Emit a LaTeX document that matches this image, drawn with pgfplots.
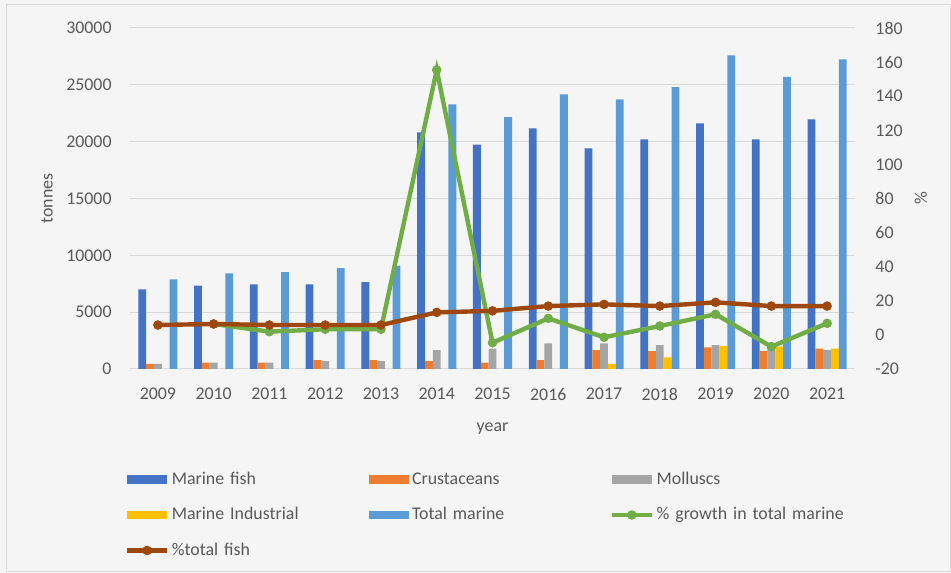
\documentclass[border=0pt]{standalone}
\usepackage{pgfplots}
\pgfplotsset{compat=1.18}
\usepackage{fontspec}
\setmainfont{Carlito}
\definecolor{bgc}{HTML}{F5F5F5}
\definecolor{borderc}{HTML}{D9D9D9}
\definecolor{gridc}{HTML}{D9D9D9}
\definecolor{textc}{HTML}{595959}
\definecolor{mf}{HTML}{4472C4}
\definecolor{cr}{HTML}{ED7D31}
\definecolor{mo}{HTML}{A5A5A5}
\definecolor{mi}{HTML}{FFC000}
\definecolor{tm}{HTML}{5B9BD5}
\definecolor{gr}{HTML}{70AD47}
\definecolor{br}{HTML}{9E480E}
\newcommand{\chartfont}{\fontsize{13.4}{15}\selectfont}
\pgfplotsset{
  barleg/.style={legend image code/.code={\fill[##1] (0pt,-3.2pt) rectangle (30pt,3.2pt);}},
  lineleg/.style={legend image code/.code={\draw[##1,mark repeat=2,mark phase=2] plot coordinates {(0pt,0pt) (15pt,0pt) (30pt,0pt)};}},
}
\begin{document}
\begin{tikzpicture}
\fill[bgc] (0pt,0pt) rectangle (713.25pt,429.75pt);
\draw[borderc, line width=0.75pt] (4.5pt,0.75pt) rectangle (712.5pt,426pt);
\begin{axis}[
  at={(97.5pt,153pt)}, anchor=south west, scale only axis,
  width=543.75pt, height=255.75pt,
  xmin=-0.5, xmax=12.5, ymin=0, ymax=30000,
  xtick={0,1,2,3,4,5,6,7,8,9,10,11,12},
  xticklabels={2009,2010,2011,2012,2013,2014,2015,2016,2017,2018,2019,2020,2021},
  ytick={0,5000,10000,15000,20000,25000,30000},
  axis line style={draw=none}, tick style={draw=none},
  ymajorgrids, grid style={gridc, line width=0.75pt},
  /pgf/number format/assume math mode=true,
  /pgf/number format/1000 sep={},
  scaled y ticks=false,
  ticklabel style={font=\chartfont, text=textc},
  xticklabel style={yshift=-11pt},
  yticklabel style={xshift=-10.3pt},
  xlabel={year}, ylabel={tonnes},
  label style={font=\chartfont, text=textc},
  xlabel style={at={(axis description cs:0.5,-0.1743)}, anchor=center},
  ylabel style={at={(axis description cs:-0.1145,0.5)}, anchor=center},
]
\addplot[ybar, bar width=0.14, bar shift=-0.28, fill=mf, draw=none] coordinates {
(0,7010) (1,7330) (2,7450) (3,7450) (4,7650) (5,20820) (6,19730) (7,21170) (8,19410) (9,20200) (10,21610) (11,20200) (12,21960)};
\addplot[ybar, bar width=0.14, bar shift=-0.14, fill=cr, draw=none] coordinates {
(0,440) (1,550) (2,550) (3,790) (4,790) (5,700) (6,550) (7,790) (8,1670) (9,1580) (10,1910) (11,1580) (12,1790)};
\addplot[ybar, bar width=0.14, bar shift=0, fill=mo, draw=none] coordinates {
(0,440) (1,550) (2,550) (3,700) (4,700) (5,1670) (6,1790) (7,2260) (8,2260) (9,2110) (10,2110) (11,2000) (12,1670)};
\addplot[ybar, bar width=0.14, bar shift=0.14, fill=mi, draw=none] coordinates {
(8,440) (9,1030) (10,2020) (11,1960) (12,1790)};
\addplot[ybar, bar width=0.14, bar shift=0.28, fill=tm, draw=none] coordinates {
(0,7890) (1,8420) (2,8530) (3,8880) (4,9090) (5,23280) (6,22160) (7,24160) (8,23720) (9,24800) (10,27590) (11,25710) (12,27240)};
\end{axis}
\begin{axis}[
  at={(97.5pt,153pt)}, anchor=south west, scale only axis,
  width=543.75pt, height=255.75pt,
  xmin=-0.5, xmax=12.5, ymin=-20, ymax=180,
  axis y line*=right, axis x line=none,
  ytick={-20,0,20,40,60,80,100,120,140,160,180},
  axis line style={draw=none}, tick style={draw=none},
  /pgf/number format/assume math mode=true,
  ticklabel style={font=\chartfont, text=textc},
  yticklabel style={xshift=11.8pt},
  ylabel={\%},
  label style={font=\chartfont, text=textc},
  ylabel style={at={(axis description cs:1.091,0.5)}, anchor=center},
  legend columns=3,
  legend style={at={(axis description cs:-0.0074,-0.298)}, anchor=north west,
    draw=none, fill=none, inner sep=0pt, font=\chartfont, text=textc,
    row sep=13.6pt,
    /tikz/every odd column/.append style={column sep=1.9pt},
    nodes={inner sep=0pt, text width=148.25pt, text height=10pt, text depth=3pt, align=left}},
  legend cell align=left,
]
\addlegendimage{fill=mf, draw=none, barleg}
\addlegendentry{Marine fish}
\addlegendimage{fill=cr, draw=none, barleg}
\addlegendentry{Crustaceans}
\addlegendimage{fill=mo, draw=none, barleg}
\addlegendentry{Molluscs}
\addlegendimage{fill=mi, draw=none, barleg}
\addlegendentry{Marine Industrial}
\addlegendimage{fill=tm, draw=none, barleg}
\addlegendentry{Total marine}
\addplot[gr, line width=3.3pt, mark=*, mark size=3.3pt, mark options={fill=gr, draw=gr, line width=0.5pt}, lineleg] coordinates {
(1,6.4) (2,1.9) (3,3.3) (4,3.3) (5,155.4) (6,-4.6) (7,9.7) (8,-1.4) (9,5.2) (10,12.1) (11,-6.9) (12,6.8)};
\addlegendentry{\% growth in total marine}
\addplot[br, line width=3.3pt, mark=*, mark size=3.3pt, mark options={fill=br, draw=br, line width=0.5pt}, lineleg] coordinates {
(0,5.8) (1,6.4) (2,5.8) (3,5.8) (4,5.8) (5,13.2) (6,14.1) (7,16.9) (8,17.9) (9,16.9) (10,19.1) (11,16.9) (12,16.9)};
\addlegendentry{\%total fish}
\end{axis}
\end{tikzpicture}
\end{document}
